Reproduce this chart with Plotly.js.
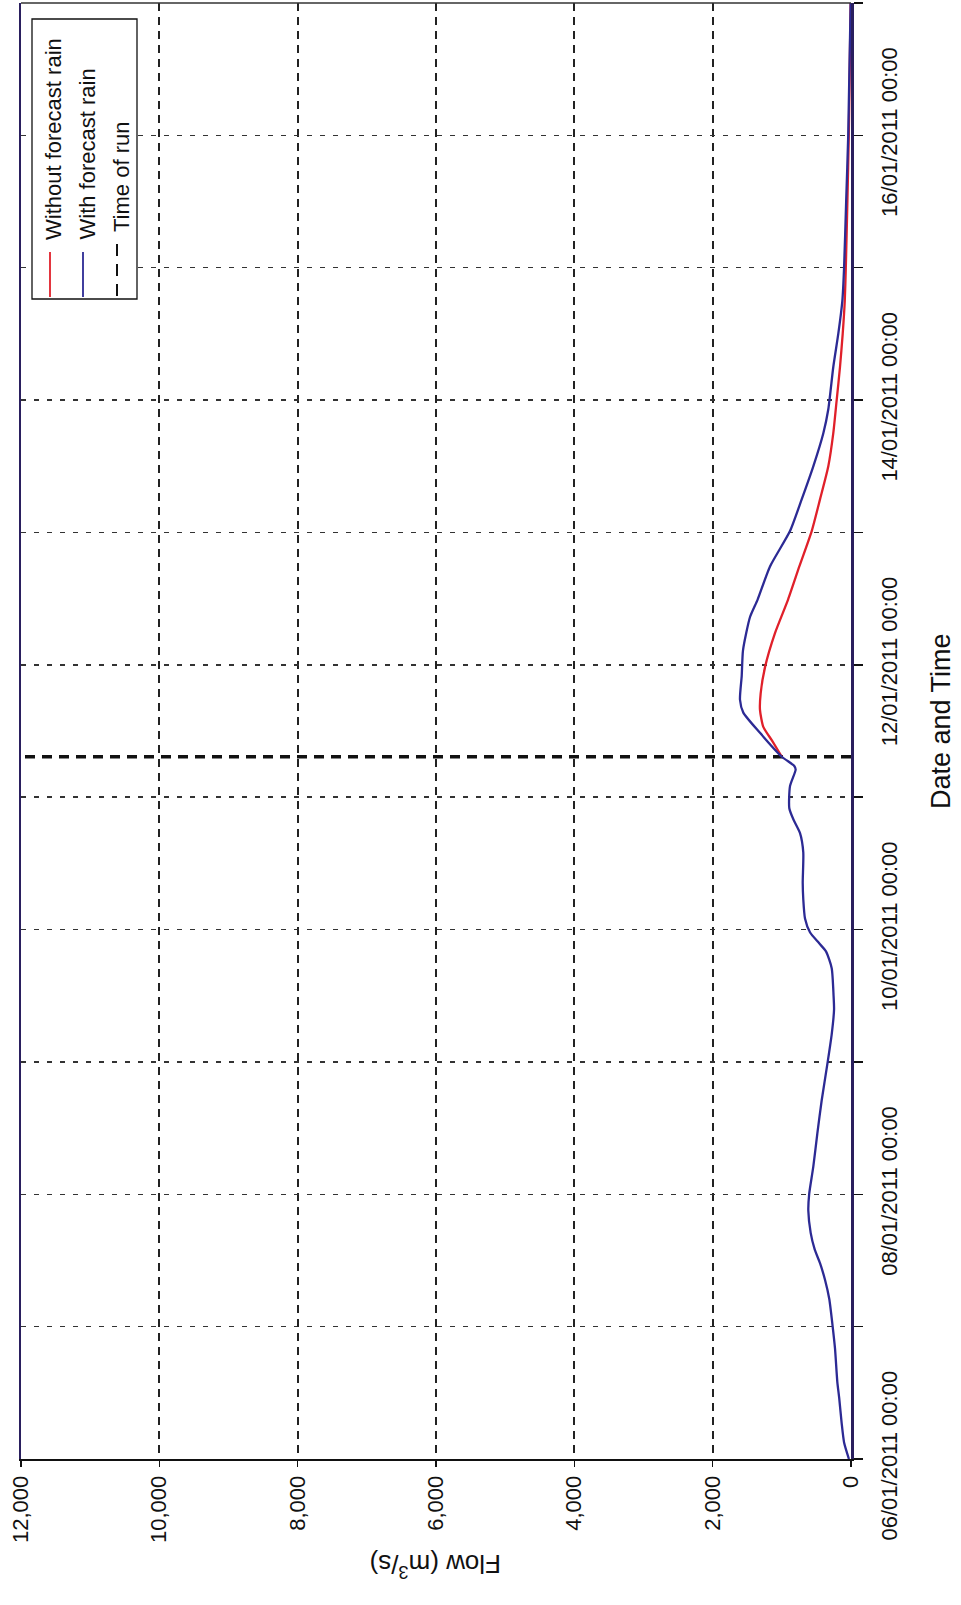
<!DOCTYPE html>
<html>
<head>
<meta charset="utf-8">
<script src="https://cdn.plot.ly/plotly-3.0.1.min.js"></script>
<style>html,body{margin:0;padding:0;background:#fff;}#chart{width:961px;height:1605px;}</style>
</head>
<body>
<div id="chart"></div>
<script>
// ---- data (flow in m3/s) ----
const withTimes = ['2011-01-06 00:00','2011-01-06 03:00','2011-01-06 06:30','2011-01-06 11:00','2011-01-06 14:00','2011-01-06 20:00',
  '2011-01-07 00:00','2011-01-07 05:00','2011-01-07 08:30','2011-01-07 11:30','2011-01-07 14:00','2011-01-07 17:00','2011-01-07 21:00',
  '2011-01-08 00:00','2011-01-08 05:00','2011-01-08 11:00','2011-01-08 17:00',
  '2011-01-09 00:00','2011-01-09 05:00','2011-01-09 09:30','2011-01-09 12:00','2011-01-09 17:00','2011-01-09 20:00','2011-01-09 21:30','2011-01-09 23:30',
  '2011-01-10 02:00','2011-01-10 05:30','2011-01-10 08:30','2011-01-10 14:00','2011-01-10 17:30','2011-01-10 20:00','2011-01-10 22:00',
  '2011-01-11 02:00','2011-01-11 05:00','2011-01-11 05:40','2011-01-11 07:20','2011-01-11 11:40','2011-01-11 15:20','2011-01-11 17:40','2011-01-11 22:00',
  '2011-01-12 02:40','2011-01-12 08:40','2011-01-12 11:50','2011-01-12 17:50',
  '2011-01-13 00:15','2011-01-13 06:00','2011-01-13 12:00','2011-01-13 18:00','2011-01-13 22:20',
  '2011-01-14 06:00','2011-01-14 12:00','2011-01-14 18:00',
  '2011-01-15 00:00','2011-01-15 12:00','2011-01-16 00:00','2011-01-17 00:00'];
const withFlow = [30,100,135,170,198,231,
  265,314,376,448,525,583,617,
  605,545,487,424,
  337,279,245,252,279,360,460,593,
  665,690,698,690,737,834,892,
  882,800,820,1000,1316,1557,1605,1580,
  1561,1460,1350,1171,
  882,713,545,400,328,
  256,184,125,
  100,70,40,5];

const withoutTimes = ['2011-01-11 07:20','2011-01-11 10:20','2011-01-11 12:45','2011-01-11 15:50','2011-01-11 18:50','2011-01-11 23:35',
  '2011-01-12 05:45','2011-01-12 11:50','2011-01-12 17:50',
  '2011-01-13 00:15','2011-01-13 06:00','2011-01-13 12:00','2011-01-13 18:00',
  '2011-01-14 00:00','2011-01-14 06:00','2011-01-14 12:00','2011-01-14 18:00',
  '2011-01-15 00:00','2011-01-15 12:00','2011-01-16 00:00','2011-01-17 00:00'];
const withoutFlow = [1000,1146,1268,1316,1306,1243,
  1099,910,747,
  568,448,328,256,
  207,159,120,90,
  75,52,32,5];

const runTime = '2011-01-11 07:20';
const runFlowSpan = [0, 12000];

const flowTicks = [0,2000,4000,6000,8000,10000,12000];
const dateTicks = ['2011-01-06','2011-01-08','2011-01-10','2011-01-12','2011-01-14','2011-01-16'];
const dateLabels = ['06/01/2011 00:00','08/01/2011 00:00','10/01/2011 00:00','12/01/2011 00:00','14/01/2011 00:00','16/01/2011 00:00'];
const dayStep = 86400000;

const seriesNames = ['Without forecast rain','With forecast rain','Time of run'];
const xTitle = 'Flow (m<sup>3</sup>/s)';
const yTitle = 'Date and Time';

// ---- layout geometry ----
const L = 21, R = 851, T = 3, B = 1459;
const W = R - L, H = B - T;
const px = v => (v - L) / W;
const py = v => (B - v) / H;
const FONT = 'Arial, "Liberation Sans", sans-serif';
const RED = '#e0202a', BLUE = '#2c2a94';

const traces = [
  {x: runFlowSpan, y: [runTime, runTime], mode: 'lines', name: seriesNames[2],
   line: {color: '#111', width: 3.5, dash: '10px,7px'}, hoverinfo: 'skip'},
  {x: withoutFlow, y: withoutTimes, mode: 'lines', name: seriesNames[0],
   line: {color: RED, width: 2.3, shape: 'spline', smoothing: 0.6}},
  {x: withFlow, y: withTimes, mode: 'lines', name: seriesNames[1],
   line: {color: BLUE, width: 2.3, shape: 'spline', smoothing: 0.6}}
];

// custom rotated legend (the whole chart is turned a quarter turn)
const legX = [50, 83, 117];
const legColors = [RED, BLUE, '#111'];
const shapes = [
  // thin top border of the plot area
  {type: 'line', xref: 'paper', yref: 'paper', x0: 0, x1: 1, y0: 1, y1: 1,
   line: {color: '#333', width: 1.4}, layer: 'above'},
  {type: 'rect', xref: 'paper', yref: 'paper', x0: px(32), x1: px(137), y0: py(19), y1: py(299),
   line: {color: '#111', width: 1.3}, fillcolor: '#fff', layer: 'above'}
];
legX.forEach((lx, i) => {
  shapes.push({type: 'line', xref: 'paper', yref: 'paper', x0: px(lx), x1: px(lx),
    y0: py(i === 2 ? 244 : 252), y1: py(297), layer: 'above',
    line: {color: legColors[i], width: i === 2 ? 2 : 1.8, dash: i === 2 ? '12px,8px' : 'solid'}});
});
const annotations = seriesNames.map((s, i) => ({
  text: s, xref: 'paper', yref: 'paper', x: px(legX[i] + 4), y: py(i === 2 ? 234 : 242),
  xanchor: 'center', yanchor: 'bottom', textangle: -90, showarrow: false,
  font: {family: FONT, size: 22, color: '#111'}
}));
annotations.push({text: xTitle, xref: 'paper', yref: 'paper', x: px(436), y: py(1566),
  xanchor: 'center', yanchor: 'middle', textangle: 180, showarrow: false,
  font: {family: FONT, size: 26, color: '#111'}});
annotations.push({text: yTitle, xref: 'paper', yref: 'paper', x: px(941), y: py(721),
  xanchor: 'center', yanchor: 'middle', textangle: -90, showarrow: false,
  font: {family: FONT, size: 27, color: '#111'}});

const layout = {
  width: 961, height: 1605,
  margin: {l: L, r: 961 - R, t: T, b: 1605 - B, pad: 0},
  paper_bgcolor: '#fff', plot_bgcolor: '#fff',
  showlegend: false,
  font: {family: FONT, color: '#111'},
  xaxis: {
    range: [12000, 0], autorange: false, tickmode: 'array', tickvals: flowTicks, tickformat: ',d',
    tickangle: -90, tickfont: {size: 22, family: FONT, color: '#111'},
    ticks: 'outside', ticklen: 6, tickcolor: '#111', tickwidth: 1.5,
    showgrid: true, gridcolor: '#222', gridwidth: 2, griddash: '8px,6px',
    zeroline: false, showline: true, linecolor: '#111', linewidth: 2, mirror: false
  },
  yaxis: {
    type: 'date', range: ['2011-01-06 00:00', '2011-01-17 00:00'], autorange: false, side: 'right',
    tickmode: 'array', tickvals: dateTicks, ticktext: dateLabels, tickangle: -90,
    tickfont: {size: 22, family: FONT, color: '#111'}, ticklabelstandoff: 8,
    ticks: 'outside', ticklen: 9, tickcolor: '#111', tickwidth: 1.5,
    showgrid: true, gridcolor: '#333', gridwidth: 1.5, griddash: '5px,8px',
    minor: {tick0: '2011-01-06', dtick: dayStep, ticks: 'outside', ticklen: 9, tickcolor: '#111', tickwidth: 1.5,
            showgrid: true, gridcolor: '#333', gridwidth: 1.5, griddash: '5px,8px'},
    zeroline: false, showline: true, linecolor: '#2a1f5e', linewidth: 2.5, mirror: true
  },
  shapes: shapes,
  annotations: annotations
};

Plotly.newPlot('chart', traces, layout, {displayModeBar: false, staticPlot: true});
</script>
</body>
</html>
